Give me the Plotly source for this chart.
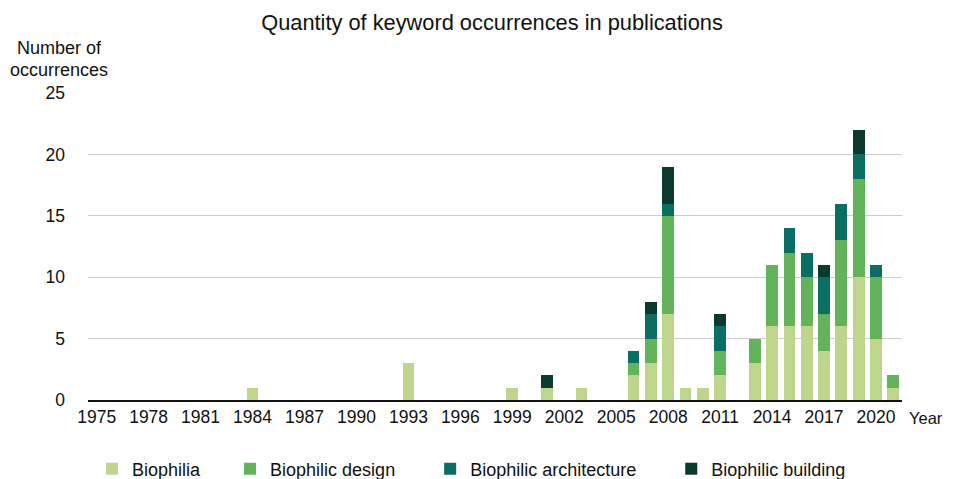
import plotly.graph_objects as go

years = list(range(1975, 2022))
biophilia = {1984: 1, 1993: 3, 1999: 1, 2001: 1, 2003: 1, 2006: 2, 2007: 3, 2008: 7, 2009: 1,
             2010: 1, 2011: 2, 2013: 3, 2014: 6, 2015: 6, 2016: 6, 2017: 4, 2018: 6,
             2019: 10, 2020: 5, 2021: 1}
biophilic_design = {2006: 1, 2007: 2, 2008: 8, 2011: 2, 2013: 2, 2014: 5, 2015: 6, 2016: 4,
                    2017: 3, 2018: 7, 2019: 8, 2020: 5, 2021: 1}
biophilic_architecture = {2006: 1, 2007: 2, 2008: 1, 2011: 2, 2015: 2, 2016: 2, 2017: 3,
                          2018: 3, 2019: 2, 2020: 1}
biophilic_building = {2001: 1, 2007: 1, 2008: 3, 2011: 1, 2017: 1, 2019: 2}
tick_years = list(range(1975, 2021, 3))

series = [
    ("Biophilia", biophilia, "#bdd68b"),
    ("Biophilic design", biophilic_design, "#63b35b"),
    ("Biophilic architecture", biophilic_architecture, "#0b6e63"),
    ("Biophilic building", biophilic_building, "#0c3a2f"),
]

pads = ["\u00a0" * 5, "\u00a0" * 6, "\u00a0" * 6, ""]
cats = [str(y) for y in years]
fig = go.Figure()
for (name, d, color), p in zip(series, pads):
    fig.add_trace(go.Bar(
        x=cats, y=[d.get(y, 0) for y in years],
        name=name + p,
        marker=dict(color=color, line=dict(width=0)),
    ))

W, H = 945, 471
font = "Liberation Sans, Arial, sans-serif"
plot_top, plot_h, plot_l, plot_w = 85, H - 85 - 79, 80, 814
fig.update_layout(
    barmode="stack", bargap=0.32,
    width=W, height=H,
    margin=dict(l=80, r=51, t=85, b=79, autoexpand=False),
    paper_bgcolor="white", plot_bgcolor="white",
    font=dict(family=font, size=17.5, color="#111111"),
    title=dict(text="Quantity of keyword occurrences in publications",
               xref="container", x=484 / W, xanchor="center",
               yref="container", y=1 - 14 / H, yanchor="middle",
               font=dict(size=21.8, family=font, color="#111111")),
    xaxis=dict(type="category", range=[-0.5, len(years) - 0.5], automargin=False,
               tickmode="array", tickvals=[str(y) for y in tick_years],
               ticktext=[str(y) for y in tick_years],
               showgrid=False, showline=True, linecolor="#111111", linewidth=2,
               ticks="", tickfont=dict(size=17.5)),
    yaxis=dict(range=[0, 25], tickvals=[0, 5, 10, 15, 20, 25], showgrid=True, automargin=False,
               gridcolor="#cccccc", gridwidth=1, zeroline=False, showline=False,
               ticks="", ticklabelstandoff=22, tickfont=dict(size=17.5)),
    legend=dict(orientation="h", x=4 / plot_w, xanchor="left", xref="paper",
                yref="paper", y=(plot_top + plot_h - 461) / plot_h, yanchor="middle",
                font=dict(size=18), traceorder="normal", itemwidth=30),
    showlegend=True,
)
for txt, yfig in (("Number of", 40), ("occurrences", 62)):
    fig.add_annotation(text=txt, xref="paper", yref="paper",
                       x=(51 - plot_l) / plot_w, y=(plot_top + plot_h - yfig) / plot_h,
                       xanchor="center", yanchor="middle", showarrow=False,
                       font=dict(size=18))
fig.add_annotation(text="Year", xref="paper", yref="paper", x=1.0, xshift=5, y=0,
                   yshift=-18, xanchor="left", yanchor="middle", showarrow=False,
                   font=dict(size=16.5))
fig.write_html("out.html")
